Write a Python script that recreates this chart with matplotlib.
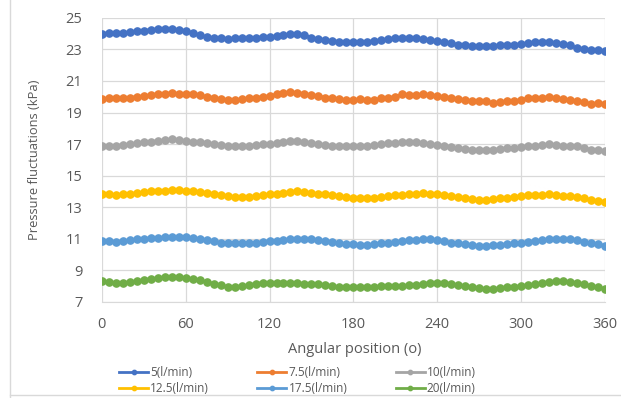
import matplotlib
matplotlib.use("Agg")
import matplotlib.pyplot as plt
from matplotlib.lines import Line2D
import numpy as np

angles = list(range(0, 361, 5))

s5 = [24.0, 24.05, 24.05, 24.05, 24.1, 24.15, 24.2, 24.25, 24.3, 24.3, 24.3, 24.25, 24.2,
      24.05, 23.9, 23.8, 23.75, 23.7, 23.65, 23.7, 23.7, 23.75, 23.75, 23.8, 23.8,
      23.85, 23.9, 23.95, 23.95, 23.9, 23.75, 23.65, 23.6, 23.55, 23.5, 23.45, 23.45,
      23.45, 23.5, 23.55, 23.6, 23.65, 23.7, 23.7, 23.75, 23.7, 23.65, 23.6, 23.55,
      23.45, 23.4, 23.3, 23.25, 23.2, 23.2, 23.2, 23.2, 23.25, 23.25, 23.3, 23.35,
      23.4, 23.45, 23.5, 23.45, 23.4, 23.35, 23.25, 23.1, 23.0, 22.95, 22.95, 22.9]
s7_5 = [19.85, 19.9, 19.9, 19.9, 19.95, 20.0, 20.05, 20.1, 20.2, 20.2, 20.25, 20.2, 20.2,
        20.15, 20.1, 20.0, 19.95, 19.85, 19.8, 19.8, 19.85, 19.9, 19.95, 20.0, 20.05,
        20.15, 20.25, 20.3, 20.25, 20.2, 20.1, 20.05, 19.95, 19.9, 19.85, 19.8, 19.8,
        19.85, 19.8, 19.8, 19.9, 19.95, 20.0, 20.15, 20.1, 20.1, 20.15, 20.1, 20.05,
        20.0, 19.95, 19.85, 19.8, 19.75, 19.7, 19.75, 19.6, 19.65, 19.7, 19.75, 19.8,
        19.9, 19.95, 19.95, 20.0, 19.9, 19.85, 19.8, 19.75, 19.65, 19.55, 19.6, 19.55]
s10 = [16.85, 16.85, 16.9, 16.95, 17.0, 17.05, 17.1, 17.15, 17.2, 17.25, 17.3, 17.25, 17.2,
       17.15, 17.1, 17.05, 17.0, 16.95, 16.9, 16.85, 16.85, 16.9, 16.95, 17.0, 17.0,
       17.05, 17.15, 17.2, 17.2, 17.15, 17.05, 17.0, 16.95, 16.9, 16.85, 16.85, 16.85,
       16.85, 16.9, 16.95, 17.0, 17.05, 17.05, 17.1, 17.15, 17.1, 17.05, 17.0, 16.95,
       16.9, 16.8, 16.75, 16.7, 16.65, 16.65, 16.65, 16.65, 16.7, 16.75, 16.75, 16.8,
       16.85, 16.9, 16.95, 17.0, 16.95, 16.9, 16.85, 16.9, 16.75, 16.65, 16.6, 16.55]
s12_5 = [13.8, 13.8, 13.75, 13.8, 13.85, 13.9, 13.95, 14.0, 14.05, 14.05, 14.1, 14.1, 14.05,
         14.0, 13.95, 13.9, 13.85, 13.75, 13.7, 13.65, 13.65, 13.65, 13.7, 13.75, 13.8,
         13.85, 13.9, 13.95, 14.0, 13.95, 13.9, 13.85, 13.8, 13.75, 13.7, 13.65, 13.6,
         13.6, 13.55, 13.6, 13.65, 13.7, 13.75, 13.75, 13.8, 13.85, 13.9, 13.85, 13.8,
         13.75, 13.7, 13.65, 13.6, 13.5, 13.45, 13.45, 13.5, 13.55, 13.6, 13.65, 13.7,
         13.75, 13.75, 13.75, 13.8, 13.75, 13.7, 13.7, 13.65, 13.55, 13.45, 13.4, 13.35]
s17_5 = [10.85, 10.85, 10.8, 10.85, 10.9, 10.95, 11.0, 11.05, 11.05, 11.1, 11.1, 11.1, 11.1,
         11.05, 11.0, 10.9, 10.85, 10.75, 10.7, 10.7, 10.7, 10.7, 10.75, 10.8, 10.85,
         10.85, 10.9, 10.95, 11.0, 10.95, 10.95, 10.9, 10.85, 10.8, 10.7, 10.65, 10.65,
         10.6, 10.6, 10.65, 10.7, 10.75, 10.8, 10.85, 10.9, 10.9, 10.95, 10.95, 10.9,
         10.85, 10.75, 10.7, 10.65, 10.6, 10.55, 10.55, 10.6, 10.6, 10.65, 10.7, 10.75,
         10.8, 10.85, 10.9, 10.95, 10.95, 10.95, 10.95, 10.9, 10.8, 10.7, 10.65, 10.55]
s20 = [8.3, 8.25, 8.2, 8.2, 8.25, 8.3, 8.4, 8.45, 8.5, 8.55, 8.55, 8.55, 8.5,
       8.45, 8.35, 8.25, 8.15, 8.05, 7.95, 7.95, 8.0, 8.05, 8.15, 8.2, 8.2,
       8.2, 8.2, 8.2, 8.2, 8.15, 8.15, 8.1, 8.05, 8.0, 7.95, 7.9, 7.9,
       7.9, 7.9, 7.95, 8.0, 8.0, 8.0, 8.0, 8.05, 8.05, 8.15, 8.2, 8.2,
       8.2, 8.15, 8.05, 8.0, 7.9, 7.85, 7.8, 7.8, 7.85, 7.9, 7.95, 8.0,
       8.05, 8.1, 8.2, 8.25, 8.3, 8.3, 8.25, 8.2, 8.1, 8.0, 7.95, 7.8]

labels = ["5(l/min)", "7.5(l/min)", "10(l/min)", "12.5(l/min)", "17.5(l/min)", "20(l/min)"]
series = [s5, s7_5, s10, s12_5, s17_5, s20]
colors = ["#4472C4", "#ED7D31", "#A5A5A5", "#FFC000", "#5B9BD5", "#70AD47"]

x_ticks = [0, 60, 120, 180, 240, 300, 360]
y_ticks = [7, 9, 11, 13, 15, 17, 19, 21, 23, 25]

plt.rcParams['font.family'] = ['Open Sans', 'DejaVu Sans']
txt = "#595959"

fig = plt.figure(figsize=(6.21, 3.98), dpi=100)
ax = fig.add_axes([0.164, 0.242, 0.81, 0.713])

handles = []
for vals, lab, c in zip(series, labels, colors):
    h, = ax.plot(angles, vals, color=c, lw=2, marker='o', ms=5.2, label=lab)
    handles.append(h)

ax.set_xlim(0, 360)
ax.set_ylim(7, 25)
ax.set_xticks(x_ticks)
ax.set_yticks(y_ticks)
ax.grid(True, color="#D9D9D9", lw=0.9)
ax.set_axisbelow(True)
for sp in ['top', 'right', 'left']:
    ax.spines[sp].set_visible(False)
ax.spines['bottom'].set_color("#D9D9D9")
ax.tick_params(length=0, labelsize=10.5, colors=txt)
ax.tick_params(axis='x', pad=11)
ax.tick_params(axis='y', pad=14)
ax.set_xlabel("Angular position (o)", fontsize=10.5, color=txt)
ax.set_ylabel("Pressure fluctuations (kPa)", fontsize=9.3, color=txt)
ax.xaxis.set_label_coords(0.502, -0.142)
ax.yaxis.set_label_coords(-0.121, 0.5)

order = [0, 3, 1, 4, 2, 5]
leg = fig.legend([handles[i] for i in order], [labels[i] for i in order],
                 loc='center', bbox_to_anchor=(0.479, 0.044), ncol=3, frameon=False,
                 fontsize=8.5, handlelength=2.45, columnspacing=4.1, labelspacing=0.2,
                 handletextpad=0.17, markerscale=0.6, borderpad=0.1)
for t in leg.get_texts():
    t.set_color(txt)

fig.add_artist(Line2D([10 / 621, 10 / 621], [0.0, 1.0], transform=fig.transFigure,
                      color="#D9D9D9", lw=1))
fig.add_artist(Line2D([10 / 621, 1.0], [3 / 398, 3 / 398], transform=fig.transFigure,
                      color="#D9D9D9", lw=1))

fig.savefig("out.png", dpi=100)
